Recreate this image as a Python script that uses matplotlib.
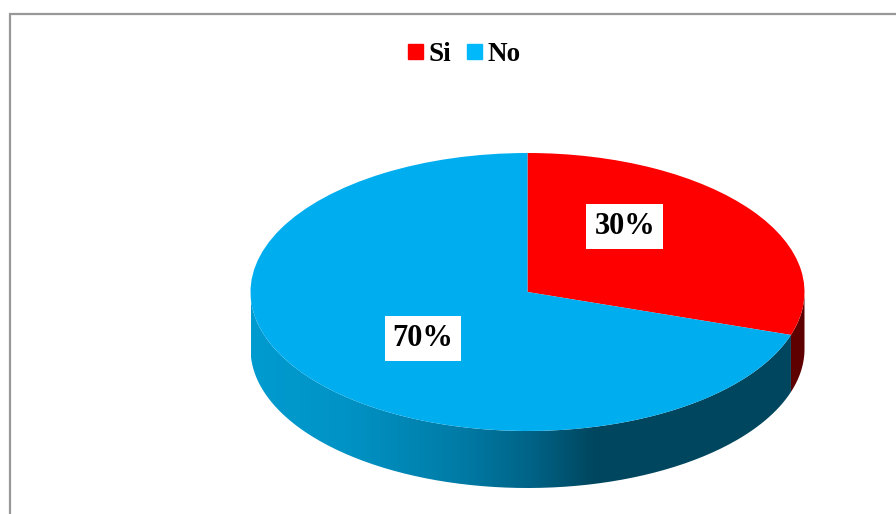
# Si / No pie, drawn with a fake 3D side wall
import numpy as np
import matplotlib
matplotlib.use("Agg")
import matplotlib.pyplot as plt
from matplotlib.colors import LinearSegmentedColormap
from matplotlib.lines import Line2D
from matplotlib.patches import Patch, PathPatch
from matplotlib.path import Path

labels = ["Si", "No"]
shares = [30, 70]
pct_labels = ["30%", "70%"]
colors = ["#FF0000", "#00AEEF"]
legend_colors = ["#FF0000", "#00B9FA"]

W, H = 896, 514
plt.rcParams["font.family"] = ["Liberation Serif", "DejaVu Serif"]
plt.rcParams["font.weight"] = "bold"

fig = plt.figure(figsize=(W / 100, H / 100), dpi=100, facecolor="white")

# outer frame runs off the right and bottom of the picture
fig.add_artist(Line2D([W, 10, 10], [H - 13.5, H - 13.5, 0], transform=None,
                      color="#989898", lw=1.6, solid_joinstyle="miter"))

# axes sit exactly on the top ellipse so that radius 1 fills them
cx, cy, rx, ry = 527.5, 292, 277, 139
depth = 57 / ry
ax = fig.add_axes([(cx - rx) / W, 1 - (cy + ry) / H, 2 * rx / W, 2 * ry / H])
wedges, _ = ax.pie(shares, colors=colors, startangle=90, counterclock=False,
                   wedgeprops={"linewidth": 0, "zorder": 3})


def wall_path(a0, a1):
    t = np.radians(np.linspace(a0, a1, 200))
    x, y = np.cos(t), np.sin(t)
    return Path(np.column_stack([np.r_[x, x[::-1]], np.r_[y, y[::-1] - depth]]))


split = 90 - 360 * shares[0] / sum(shares)

# blue wall, gradient from left to right
wall_cmap = LinearSegmentedColormap.from_list(
    "wall", [(0, "#009BD0"), (0.17, "#0093C5"), (0.38, "#007BA6"), (0.51, "#006285"),
             (0.62, "#00465F"), (1, "#00475F")])
img = ax.imshow(np.linspace(0, 1, 512)[None, :], cmap=wall_cmap, aspect="auto",
                extent=(-1, 1, -1 - depth, 0.5), zorder=1)
clip = PathPatch(wall_path(-180, split), transform=ax.transData, fc="none", ec="none",
                 clip_on=False)
ax.add_patch(clip)
img.set_clip_path(clip)
img.set_clip_box(fig.bbox)

# red wall
ax.add_patch(PathPatch(wall_path(split, 0), fc="#5E0000", ec="none", zorder=1, clip_on=False))

ax.set_aspect("auto")
ax.set_xlim(-1, 1)
ax.set_ylim(-1, 1)
ax.axis("off")

# percent labels with white boxes
label_pos = [(0.351, 0.47), (-0.377, -0.335)]
for txt, (x, y) in zip(pct_labels, label_pos):
    ax.text(x, y, txt, ha="center", va="center", fontsize=22, color="black", zorder=5,
            bbox=dict(boxstyle="square,pad=0.26", fc="white", ec="none"))

handles = [Patch(color=c) for c in legend_colors]
fig.legend(handles, labels, ncol=2, loc="center", bbox_to_anchor=(464.5 / W, 1 - 54.5 / H),
           frameon=False, fontsize=19.5, handlelength=0.56, handleheight=0.5,
           handletextpad=0.2, columnspacing=0.58, borderpad=0)

fig.savefig("out.png", dpi=100)
